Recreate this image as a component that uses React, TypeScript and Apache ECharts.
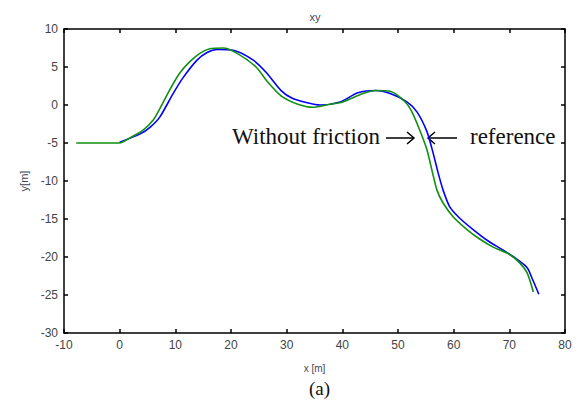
import React, { useEffect, useRef } from "react";
import * as echarts from "echarts";

const xTicks = [-10, 80, 10];
const yTicks = [-30, 10, 5];

const greenX = [-7.8, 0, 1.9, 4.2, 6.0, 7.2, 9.0, 10.8, 12.6, 14.4, 16.2, 18.6, 21.1, 24.5, 26.5, 29.0, 32.0, 34.7, 37.8, 40.1, 43.7, 46.0, 48.6, 51.3, 52.5, 53.9, 55.2, 56.1, 57.0, 58.1, 59.9, 62.4, 64.6, 67.1, 70.1, 71.9, 73.2, 74.3];
const greenY = [-5, -5, -4.3, -3.3, -2.0, -0.5, 2.0, 4.2, 5.7, 6.8, 7.4, 7.5, 6.8, 5.0, 3.1, 1.2, 0.1, -0.3, 0.1, 0.4, 1.5, 1.9, 1.8, 0.4, -0.9, -3.3, -5.9, -8.6, -11.2, -12.9, -14.7, -16.4, -17.6, -18.7, -19.7, -20.8, -22.1, -24.6];

const blueX = [0, 3.7, 5.5, 7.2, 9.6, 11.4, 13.9, 15.7, 17.5, 20.4, 24.0, 26.3, 29.0, 31.0, 33.7, 36.0, 39.6, 42.8, 46.0, 48.6, 51.6, 53.4, 55.2, 56.3, 57.2, 58.1, 59.3, 61.1, 63.5, 66.0, 68.9, 71.0, 73.2, 74.2, 75.3];
const blueY = [-4.9, -3.8, -2.9, -1.6, 1.5, 3.6, 5.9, 6.9, 7.3, 7.2, 5.9, 4.3, 1.9, 0.9, 0.3, 0.0, 0.4, 1.6, 1.9, 1.5, 0.4, -0.9, -3.5, -6.3, -8.9, -11.2, -13.4, -14.9, -16.4, -17.8, -19.1, -20.1, -21.4, -23.0, -24.9];

const zip = (xs: number[], ys: number[]) => xs.map((x, i) => [x, ys[i]]);

export default function App() {
  const ref = useRef<HTMLDivElement>(null);
  useEffect(() => {
    if (!ref.current) return;
    const chart = echarts.init(ref.current, null, { renderer: "svg" });
    const axisLine = { show: true, onZero: false, lineStyle: { color: "#000", width: 1.5 } };
    const tick = { show: true, inside: true, length: 4, lineStyle: { color: "#000", width: 1.5 } };
    const sans = "Liberation Sans, Arial, sans-serif";
    const lbl = { color: "#444", fontFamily: sans, fontSize: 12 };
    const serif = "Liberation Serif, Times New Roman, serif";
    chart.setOption({
      animation: false,
      backgroundColor: "#fff",
      title: {
        text: "xy",
        left: 310,
        top: 6,
        textAlign: "center",
        textStyle: { fontSize: 11, fontWeight: "normal", color: "#445", fontFamily: sans },
      },
      grid: { left: 64, right: 19, top: 29, bottom: 83 },
      xAxis: [
        {
          type: "value", position: "bottom", min: xTicks[0], max: xTicks[1], interval: xTicks[2],
          axisLine, axisTick: tick, splitLine: { show: false },
          axisLabel: { ...lbl, margin: 6 },
          name: "x [m]", nameLocation: "middle", nameGap: 30,
          nameTextStyle: { fontSize: 10, color: "#445", fontFamily: sans },
        },
        {
          type: "value", position: "top", min: xTicks[0], max: xTicks[1], interval: xTicks[2],
          axisLine, axisTick: tick, splitLine: { show: false }, axisLabel: { show: false },
        },
      ],
      yAxis: [
        {
          type: "value", position: "left", min: yTicks[0], max: yTicks[1], interval: yTicks[2],
          axisLine, axisTick: tick, splitLine: { show: false },
          axisLabel: { ...lbl, margin: 6 },
          name: "y[m]", nameLocation: "middle", nameGap: 34, nameRotate: 90,
          nameTextStyle: { fontSize: 11, color: "#445", fontFamily: sans },
        },
        {
          type: "value", position: "right", min: yTicks[0], max: yTicks[1], interval: yTicks[2],
          axisLine, axisTick: tick, splitLine: { show: false }, axisLabel: { show: false },
        },
      ],
      series: [
        {
          name: "reference", type: "line", data: zip(blueX, blueY), showSymbol: false, smooth: 0.25,
          lineStyle: { color: "#0000ff", width: 1.6 }, xAxisIndex: 0, yAxisIndex: 0,
        },
        {
          name: "Without friction", type: "line", data: zip(greenX, greenY), showSymbol: false, smooth: 0.25,
          lineStyle: { color: "#119011", width: 1.6 }, xAxisIndex: 0, yAxisIndex: 0,
        },
      ],
      graphic: [
        {
          type: "text", left: 232, top: 125,
          style: { text: "Without friction", font: `23px ${serif}`, fill: "#111" },
        },
        { type: "line", shape: { x1: 386, y1: 138, x2: 414, y2: 138 }, style: { stroke: "#000", lineWidth: 1.5 } },
        { type: "polyline", shape: { points: [[407, 132], [414, 138], [407, 144]] }, style: { stroke: "#000", lineWidth: 1.5, fill: "none" } },
        { type: "line", shape: { x1: 428, y1: 138, x2: 457, y2: 138 }, style: { stroke: "#000", lineWidth: 1.5 } },
        { type: "polyline", shape: { points: [[435, 132], [428, 138], [435, 144]] }, style: { stroke: "#000", lineWidth: 1.5, fill: "none" } },
        {
          type: "text", left: 470, top: 125,
          style: { text: "reference", font: `23px ${serif}`, fill: "#111" },
        },
        {
          type: "text", left: 309, top: 379,
          style: { text: "(a)", font: `19px ${serif}`, fill: "#111" },
        },
      ],
    });
    return () => chart.dispose();
  }, []);
  return <div ref={ref} style={{ width: 584, height: 416, position: "absolute", left: 0, top: 0 }} />;
}
